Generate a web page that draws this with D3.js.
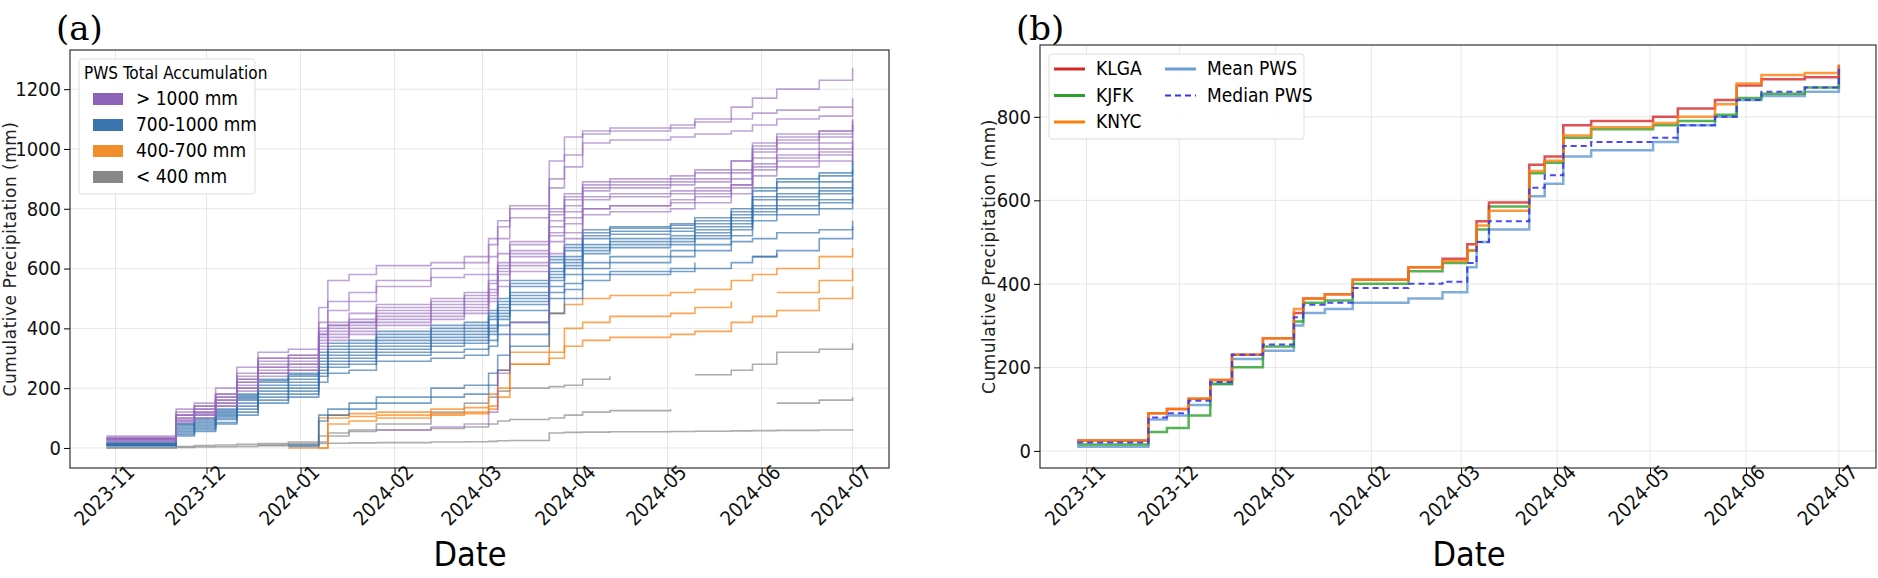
<!DOCTYPE html>
<html><head><meta charset="utf-8">
<script src="https://cdn.jsdelivr.net/npm/d3@7"></script>
<style>body{margin:0;background:#fff}svg{display:block}
.tk{font-family:"DejaVu Sans Condensed","DejaVu Sans";font-stretch:condensed;}</style></head>
<body><svg id="c" width="1878" height="578"></svg>
<script>
const eventDates=["2023-10-29","2023-11-21","2023-11-27","2023-12-04","2023-12-11","2023-12-18","2023-12-28","2024-01-07","2024-01-10","2024-01-17","2024-01-26","2024-02-13","2024-02-24","2024-03-03","2024-03-06","2024-03-10","2024-03-23","2024-03-28","2024-04-03","2024-04-12","2024-05-02","2024-05-10","2024-05-22","2024-05-29","2024-06-06","2024-06-20","2024-07-01"];
const xTickLabels=["2023-11","2023-12","2024-01","2024-02","2024-03","2024-04","2024-05","2024-06","2024-07"];
const yTicksA=[0,200,400,600,800,1000,1200];
const yTicksB=[0,200,400,600,800];
const N=null;
const pwsGroups=["> 1000 mm","700-1000 mm","400-700 mm","< 400 mm"];
const pwsPurple=[
[40,130,150,200,270,320,330,470,560,580,610,620,640,700,760,810,960,1040,1060,1070,1080,1100,1140,1170,1200,1230,1270],
[35,120,140,180,250,300,310,420,490,520,560,600,620,680,740,800,900,980,1050,1060,1070,1090,1100,1120,1130,1140,1170],
[30,110,130,170,230,290,300,400,460,490,540,570,580,640,700,770,870,940,1020,1030,1040,1050,1060,1080,1100,1110,1140],
[30,110,130,170,230,280,300,390,420,450,480,500,520,580,650,690,800,850,890,900,910,930,960,1020,1050,1060,1100],
[35,110,140,180,240,300,310,380,410,430,470,490,510,560,620,680,790,840,880,890,900,920,960,1010,1040,1060,1095],
[30,100,120,160,220,270,290,380,410,420,460,480,500,550,610,660,780,830,870,880,890,900,930,1000,1030,1050,1080],
[30,100,120,160,220,270,280,370,400,420,450,470,490,530,600,650,760,810,860,870,880,890,920,990,1020,1040,1060],
[25,95,115,150,210,260,280,360,390,410,440,460,480,520,590,640,740,790,840,850,860,870,900,970,1000,1020,1045],
[30,90,110,150,200,250,270,350,380,400,430,450,470,510,580,620,720,770,830,840,850,860,880,950,980,1000,1030],
[25,90,110,140,200,250,260,340,370,390,420,440,460,500,560,610,710,750,800,810,820,840,870,930,960,980,1010],
[N,N,N,N,N,N,N,N,N,N,60,70,80,120,250,420,650,700,800,810,830,850,880,940,970,990,1020],
[20,85,100,140,190,240,260,330,360,380,410,430,450,490,540,590,690,720,780,790,800,820,850,910,940,960,990]];
const pwsBlue=[
[20,80,100,130,180,230,250,320,350,360,390,410,420,460,500,560,640,680,730,740,750,770,800,870,900,920,980],
[15,80,95,125,175,225,245,310,340,350,380,400,410,450,490,550,630,670,720,735,745,760,790,860,890,910,960],
[15,75,90,120,170,220,240,300,330,340,370,390,400,440,480,540,620,660,710,725,735,750,780,840,870,890,930],
[15,70,85,115,165,210,230,290,320,330,360,380,390,430,470,520,600,640,700,715,725,740,770,830,850,870,900],
[10,65,80,110,160,200,220,280,310,320,350,370,380,410,460,510,590,630,680,700,710,730,760,810,840,860,885],
[10,60,75,105,150,190,210,270,300,310,340,360,370,400,450,500,580,620,670,690,700,720,750,800,830,850,870],
[10,55,70,100,140,180,200,260,290,300,330,350,360,390,440,490,570,610,660,680,690,710,740,790,810,830,855],
[10,50,65,95,130,170,190,250,280,290,320,340,350,380,430,480,560,600,650,670,680,700,730,780,800,820,840],
[5,40,55,85,120,160,180,240,270,280,310,320,330,360,410,460,540,580,620,640,660,680,710,760,780,800,830],
[N,N,N,N,N,N,10,110,130,150,170,200,210,250,310,380,520,550,600,620,640,660,690,700,720,730,760],
[N,N,N,N,N,N,5,90,110,130,150,170,180,210,260,340,450,500,560,580,590,600,620,640,660,700,740],
[10,45,60,80,110,150,170,220,250,260,290,300,310,340,380,420,500,530,580,590,600,620,N,640,650,N,680]];
const pwsOrange=[
[N,N,N,N,N,N,0,100,110,115,120,130,135,180,260,320,450,480,500,510,520,530,560,580,600,640,670],
[N,N,N,N,N,N,N,0,80,90,100,110,115,140,200,280,320,400,420,440,450,470,490,N,520,560,600],
[N,N,N,N,N,N,N,0,100,105,110,115,120,130,170,280,300,340,360,370,380,390,420,440,460,500,540]];
const pwsGray=[
[N,N,N,N,N,10,15,20,40,60,80,120,150,170,190,200,205,210,230,240,N,245,260,280,320,330,350],
[0,5,8,10,12,15,20,40,50,55,60,65,70,80,90,95,100,110,120,125,130,N,N,N,150,160,170],
[0,2,3,4,5,8,10,15,16,17,18,20,21,22,24,25,50,52,53,54,55,56,57,58,59,60,62]];
const stationNames=["KLGA","KJFK","KNYC","Mean PWS","Median PWS"];
const klga=[25,90,100,125,170,230,270,330,365,375,410,440,460,495,550,595,685,705,780,790,800,820,840,875,890,895,925];
const kjfk=[15,45,55,85,160,200,250,310,355,360,400,430,450,480,530,585,665,690,750,770,780,790,805,845,855,870,915];
const knyc=[25,90,100,125,170,230,270,340,365,375,410,440,455,480,540,575,670,695,755,775,785,800,830,880,900,905,925];
const meanPws=[10,75,85,110,160,220,240,300,330,340,355,365,380,440,500,530,610,640,705,720,740,780,800,840,850,860,895];
const medianPws=[20,80,90,120,165,230,255,320,350,355,390,400,405,450,500,550,630,660,730,740,750,780,800,840,860,870,915];

const svg=d3.select("#c");
const P=d3.timeParse("%Y-%m-%d"), PM=d3.timeParse("%Y-%m");
const dates=eventDates.map(P);
const dom=[P("2023-10-17"),P("2024-07-13")];

function panel(o){
  const g=svg.append("g");
  const x=d3.scaleTime().domain(dom).range([o.L,o.R]);
  const y=d3.scaleLinear().domain(o.yd).range([o.B,o.T]);
  g.selectAll(".gx").data(xTickLabels).join("line").attr("x1",d=>x(PM(d))).attr("x2",d=>x(PM(d))).attr("y1",o.T).attr("y2",o.B).attr("stroke","#e6e6e6");
  g.selectAll(".gy").data(o.yt).join("line").attr("y1",d=>y(d)).attr("y2",d=>y(d)).attr("x1",o.L).attr("x2",o.R).attr("stroke","#e6e6e6");
  const line=d3.line().defined(d=>d[1]!=null).x(d=>x(d[0])).y(d=>y(d[1])).curve(d3.curveStepAfter);
  o.series.forEach(s=>{
    g.append("path").attr("d",line(dates.map((d,i)=>[d,s.v[i]]))).attr("fill","none")
     .attr("stroke",s.c).attr("stroke-width",s.w).attr("stroke-opacity",s.o).attr("stroke-dasharray",s.dash||null);
  });
  g.append("rect").attr("x",o.L).attr("y",o.T).attr("width",o.R-o.L).attr("height",o.B-o.T).attr("fill","none").attr("stroke","#333").attr("stroke-width",1.2);
  const xa=g.append("g").attr("transform",`translate(0,${o.B})`).call(d3.axisBottom(x).tickValues(xTickLabels.map(PM)).tickFormat(d3.timeFormat("%Y-%m")).tickSize(6));
  xa.select(".domain").remove();
  xa.selectAll("text").attr("class","tk").attr("font-size",20).attr("text-anchor","end").attr("dx","0.5em").attr("dy","0.45em").attr("transform","rotate(-45)").attr("fill","#111");
  const ya=g.append("g").attr("transform",`translate(${o.L},0)`).call(d3.axisLeft(y).tickValues(o.yt).tickFormat(d3.format("d")).tickSize(6));
  ya.select(".domain").remove();
  ya.selectAll("text").attr("class","tk").attr("font-size",20).attr("fill","#111");
  g.append("text").attr("transform",`translate(${o.yl},${(o.T+o.B)/2}) rotate(-90)`).attr("text-anchor","middle").attr("font-family","DejaVu Sans").attr("font-size",17).attr("letter-spacing",0.5).attr("fill","#222").text("Cumulative Precipitation (mm)");
  g.append("text").attr("x",o.dx).attr("y",566).attr("text-anchor","middle").attr("font-family","DejaVu Sans Condensed, DejaVu Sans").attr("font-size",34).text("Date");
  g.append("text").attr("x",o.px).attr("y",40).attr("font-family","DejaVu Serif").attr("font-size",34).text(o.lab);
  return g;
}
const cols=["#9467bd","#2f6fad","#ff7f0e","#8a8a8a"];
const sa=[];
pwsGray.forEach(v=>sa.push({v,c:cols[3],w:1.6,o:0.7}));
pwsOrange.forEach(v=>sa.push({v,c:cols[2],w:1.6,o:0.7}));
pwsBlue.forEach(v=>sa.push({v,c:cols[1],w:1.6,o:0.65}));
pwsPurple.forEach(v=>sa.push({v,c:cols[0],w:1.6,o:0.6}));
const ga=panel({L:70,R:889,T:50,B:468,yd:[-67,1331],yt:yTicksA,series:sa,yl:16,dx:470,px:56,lab:"(a)"});
const la=ga.append("g");
la.append("rect").attr("x",79).attr("y",59).attr("width",176).attr("height",135).attr("rx",3).attr("fill","#fff").attr("fill-opacity",0.85).attr("stroke","#ddd");
la.append("text").attr("x",84).attr("y",79).attr("class","tk").attr("font-size",17).text("PWS Total Accumulation");
const lcol=["#8c63b8","#3b75af","#f28e2b","#888"];
pwsGroups.forEach((t,i)=>{
  const yy=99+i*26;
  la.append("rect").attr("x",93).attr("y",yy-6).attr("width",30).attr("height",12).attr("fill",lcol[i]);
  la.append("text").attr("x",136).attr("y",yy+6).attr("class","tk").attr("font-size",19).text(t);
});
const sb=[
 {v:meanPws,c:"#6a9fd4",w:2.5,o:0.85},
 {v:kjfk,c:"#2ca02c",w:2.5,o:0.8},
 {v:klga,c:"#d62728",w:2.5,o:0.8},
 {v:knyc,c:"#ff7f0e",w:2.5,o:0.8},
 {v:medianPws,c:"#3535f5",w:2,o:0.9,dash:"6,4"}];
const gb=panel({L:1040,R:1876,T:45,B:468,yd:[-41,972],yt:yTicksB,series:sb,yl:995,dx:1469,px:1016,lab:"(b)"});
const lb=gb.append("g");
lb.append("rect").attr("x",1049).attr("y",54).attr("width",255).attr("height",85).attr("rx",3).attr("fill","#fff").attr("fill-opacity",0.85).attr("stroke","#ddd");
const lbItems=[[0,0,"#d62728",null],[0,1,"#2ca02c",null],[0,2,"#ff7f0e",null],[1,0,"#6a9fd4",null],[1,1,"#3535f5","6,4"]];
lbItems.forEach((d,i)=>{
  const x0=d[0]?1165:1054, yy=69+d[1]*26.5;
  lb.append("line").attr("x1",x0).attr("x2",x0+31).attr("y1",yy).attr("y2",yy).attr("stroke",d[2]).attr("stroke-width",d[3]?2:3).attr("stroke-dasharray",d[3]);
  lb.append("text").attr("x",x0+42).attr("y",yy+6).attr("class","tk").attr("font-size",19).text(stationNames[i]);
});
</script></body></html>
